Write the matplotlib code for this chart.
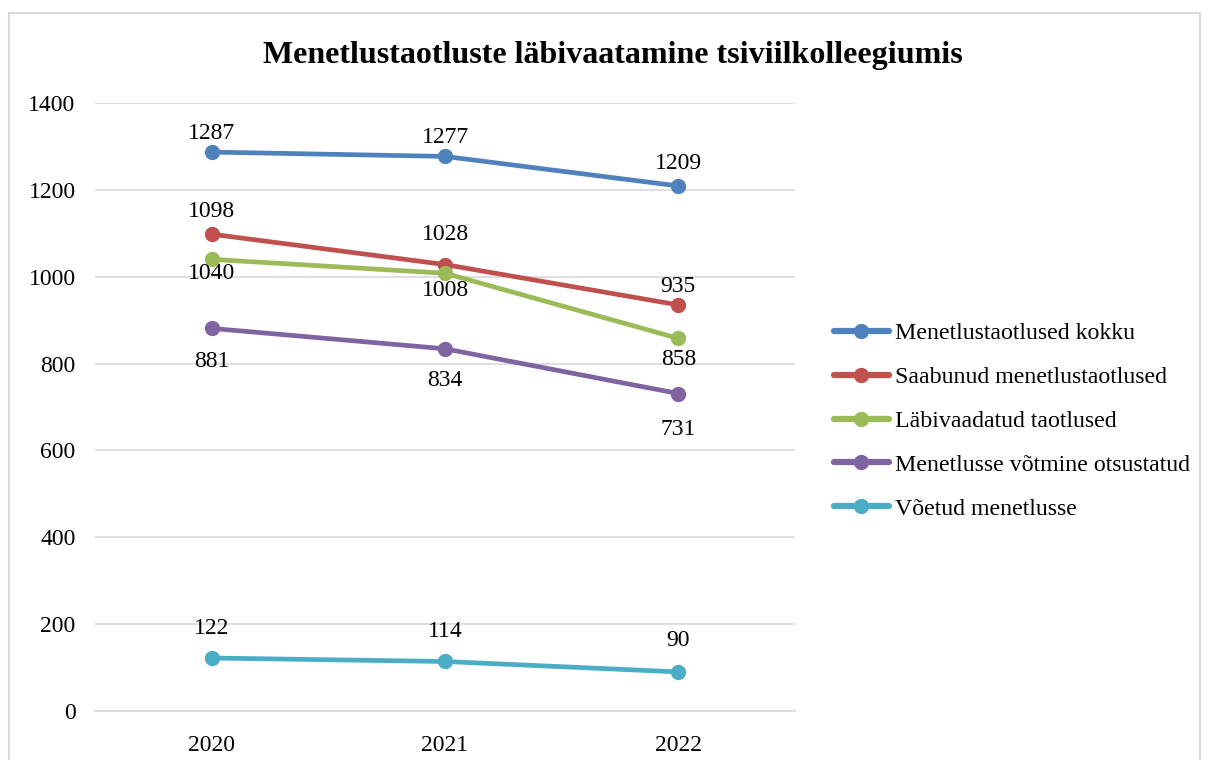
import matplotlib
matplotlib.use("Agg")
import matplotlib.pyplot as plt
from matplotlib.patches import Rectangle

years = ["2020", "2021", "2022"]
kokku = [1287, 1277, 1209]
saabunud = [1098, 1028, 935]
labivaadatud = [1040, 1008, 858]
votmine_otsustatud = [881, 834, 731]
voetud = [122, 114, 90]

series = [
    ("Menetlustaotlused kokku", kokku, "#4F81BD", [19, 19, 22]),
    ("Saabunud menetlustaotlused", saabunud, "#C0504D", [23, 30, 18]),
    ("Läbivaadatud taotlused", labivaadatud, "#9BBB59", [-14, -17, -21]),
    ("Menetlusse võtmine otsustatud", votmine_otsustatud, "#8064A2", [-33, -32, -36]),
    ("Võetud menetlusse", voetud, "#4BACC6", [30, 30, 31]),
]

plt.rcParams['font.family'] = ['Liberation Serif', 'DejaVu Serif']

fig = plt.figure(figsize=(12.08, 7.6), dpi=100)
ax = fig.add_axes([95 / 1208, 1 - 711 / 760, 700 / 1208, 608 / 760])

# chart border
fig.patches.append(Rectangle((9 / 1208, -0.05), 1191 / 1208, 1 - 13 / 760 + 0.05,
                             transform=fig.transFigure, fill=False,
                             edgecolor="#D9D9D9", linewidth=1.5))

x = list(range(len(years)))
for name, vals, col, offs in series:
    ax.plot(x, vals, color=col, linewidth=3.4, marker="o", markersize=10,
            label=name, solid_capstyle="round")
    for xi, v, off in zip(x, vals, offs):
        ax.annotate(str(v), (xi, v), xytext=(0, off * 0.72), textcoords="offset points",
                    ha="center", va="center", fontsize=17)

ax.set_xlim(-0.5, 2.5)
ax.set_ylim(0, 1400)
ax.set_yticks(range(0, 1401, 200))
ax.set_xticks(x)
ax.set_xticklabels(years)
ax.tick_params(axis="both", length=0, labelsize=17)
ax.tick_params(axis="y", pad=14)
ax.tick_params(axis="x", pad=17)
ax.grid(axis="y", color="#D9D9D9", linewidth=1.2)
ax.set_axisbelow(True)
for s in ["left", "right", "top"]:
    ax.spines[s].set_visible(False)
ax.spines["bottom"].set_color("#D9D9D9")
ax.spines["bottom"].set_linewidth(1.2)

fig.text(613 / 1208, 1 - 55 / 760, "Menetlustaotluste läbivaatamine tsiviilkolleegiumis",
         ha="center", va="center", fontsize=23, fontweight="bold")

leg = fig.legend(loc="center left", bbox_to_anchor=(834 / 1208, 1 - 421 / 760),
                 frameon=False, fontsize=17.2, handlelength=2.3, handletextpad=0.25,
                 labelspacing=0.93, borderaxespad=0, borderpad=0)
for h in leg.get_lines():
    h.set_linewidth(4.5)

fig.savefig("out.png", dpi=100)
